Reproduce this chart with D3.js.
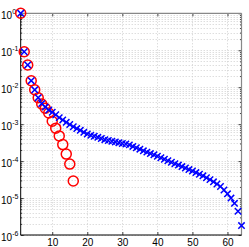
<!DOCTYPE html>
<html>
<head>
<meta charset="utf-8">
<script src="https://cdn.jsdelivr.net/npm/d3@7"></script>
<style>
  body { margin: 0; background: #fff; }
  svg { display: block; font-family: "Liberation Sans", Arial, sans-serif; }
</style>
</head>
<body>
<main></main>
<script>
// values (log scale y)
const blueVals = [
  1, 9.1e-2, 4.0e-2, 1.5e-2, 8.5e-3, 5.2e-3, 3.6e-3, 2.9e-3, 2.4e-3, 2.1e-3,
  1.8e-3, 1.5e-3, 1.3e-3, 1.12e-3, 9.8e-4, 8.5e-4, 7.6e-4, 6.8e-4, 6.0e-4, 5.4e-4,
  5.0e-4, 4.7e-4, 4.4e-4, 4.1e-4, 3.8e-4, 3.6e-4, 3.45e-4, 3.3e-4, 3.15e-4, 3.0e-4,
  2.9e-4, 2.75e-4, 2.5e-4, 2.3e-4, 2.1e-4, 1.9e-4, 1.75e-4, 1.6e-4, 1.48e-4, 1.35e-4,
  1.23e-4, 1.12e-4, 1.02e-4, 9.3e-5, 8.5e-5, 7.8e-5, 7.1e-5, 6.5e-5, 5.9e-5, 5.4e-5,
  4.9e-5, 4.4e-5, 4.0e-5, 3.55e-5, 3.15e-5, 2.75e-5, 2.4e-5, 2.05e-5, 1.65e-5, 1.3e-5,
  1.0e-5, 7.2e-6, 4.4e-6, 1.8e-6
];
const redVals = [
  1, 9.1e-2, 4.0e-2, 1.5e-2, 8.5e-3, 5.2e-3, 3.5e-3, 2.7e-3, 2.0e-3, 1.2e-3,
  7.8e-4, 4.8e-4, 2.8e-4, 1.55e-4, 8.3e-5, 2.9e-5
];
const xTicks = [10, 20, 30, 40, 50, 60];
const yExponents = [0, -1, -2, -3, -4, -5, -6];

const size = { width: 249, height: 247 };
const box = { left: 20.7, right: 241.5, top: 13.3, bottom: 235 };

const svg = d3.select('main').append('svg')
  .attr('width', size.width)
  .attr('height', size.height);

const x = d3.scaleLinear().domain([1, 64]).range([box.left, box.right]);
const y = d3.scaleLog().domain([1e-6, 1]).range([box.bottom, box.top]);

// minor log positions
const minorY = [];
for (let e = -6; e < 0; e++) {
  for (let k = 2; k <= 9; k++) minorY.push(k * Math.pow(10, e));
}
const majorY = yExponents.map(e => Math.pow(10, e));

// grid
const grid = svg.append('g')
  .attr('stroke', '#cfcfcf')
  .attr('stroke-width', 1)
  .attr('stroke-dasharray', '1,2');
grid.selectAll('.gy').data(majorY.concat(minorY)).enter().append('line')
  .attr('x1', box.left).attr('x2', box.right)
  .attr('y1', d => Math.round(y(d)) + 0.5).attr('y2', d => Math.round(y(d)) + 0.5);
grid.selectAll('.gx').data(xTicks).enter().append('line')
  .attr('y1', box.top).attr('y2', box.bottom)
  .attr('x1', d => Math.round(x(d)) + 0.5).attr('x2', d => Math.round(x(d)) + 0.5);

// axes (ticks inside)
const ax = svg.append('g');
ax.append('g')
  .attr('transform', `translate(0,${box.bottom})`)
  .call(d3.axisBottom(x).tickValues(xTicks).tickSize(-3).tickPadding(3.5).tickFormat(d3.format('d')))
  .call(g => g.select('.domain').remove());
ax.append('g')
  .attr('transform', `translate(0,${box.top})`)
  .call(d3.axisTop(x).tickValues(xTicks).tickSize(-3).tickFormat(''))
  .call(g => g.select('.domain').remove());
ax.append('g')
  .attr('transform', `translate(${box.left},0)`)
  .call(d3.axisLeft(y).tickValues(majorY).tickSize(-3).tickFormat(''))
  .call(g => g.select('.domain').remove());
ax.append('g')
  .attr('transform', `translate(${box.right},0)`)
  .call(d3.axisRight(y).tickValues(majorY).tickSize(-3).tickFormat(''))
  .call(g => g.select('.domain').remove());
ax.append('g')
  .attr('transform', `translate(${box.left},0)`)
  .call(d3.axisLeft(y).tickValues(minorY).tickSize(-1.5).tickFormat(''))
  .call(g => g.select('.domain').remove());
ax.append('g')
  .attr('transform', `translate(${box.right},0)`)
  .call(d3.axisRight(y).tickValues(minorY).tickSize(-1.5).tickFormat(''))
  .call(g => g.select('.domain').remove());
ax.selectAll('.tick line').attr('stroke', '#444');
ax.selectAll('.tick text').attr('font-size', 10).attr('fill', '#000')
  .attr('font-family', '"Liberation Sans", Arial, sans-serif');

// box
svg.append('line').attr('x1', box.left).attr('x2', box.right).attr('y1', box.top).attr('y2', box.top)
  .attr('stroke', '#888').attr('stroke-width', 1.2);
svg.append('line').attr('x1', box.right).attr('x2', box.right).attr('y1', box.top).attr('y2', box.bottom)
  .attr('stroke', '#888').attr('stroke-width', 1.2);
svg.append('line').attr('x1', box.left).attr('x2', box.left).attr('y1', box.top).attr('y2', box.bottom)
  .attr('stroke', '#000').attr('stroke-width', 1);
svg.append('line').attr('x1', box.left).attr('x2', box.right).attr('y1', box.bottom).attr('y2', box.bottom)
  .attr('stroke', '#000').attr('stroke-width', 1);

// y tick labels 10^n
const yl = svg.append('g').attr('font-size', 10).attr('fill', '#000');
yExponents.forEach(e => {
  const t = yl.append('text')
    .attr('x', 1)
    .attr('y', y(Math.pow(10, e)) + 5.5);
  t.append('tspan').text('10');
  t.append('tspan').attr('font-size', 7).attr('dy', -5).text(String(e));
});

// red circles
svg.append('g').selectAll('circle').data(redVals).enter().append('circle')
  .attr('cx', (d, i) => x(i + 1))
  .attr('cy', d => y(d))
  .attr('r', 5)
  .attr('fill', 'none')
  .attr('stroke', '#ff0000')
  .attr('stroke-width', 1.5);

// blue crosses
const s = 3.2;
svg.append('g').selectAll('path').data(blueVals).enter().append('path')
  .attr('d', (d, i) => {
    const cx = x(i + 1), cy = y(d);
    return `M${cx - s},${cy - s}L${cx + s},${cy + s}M${cx - s},${cy + s}L${cx + s},${cy - s}`;
  })
  .attr('stroke', '#0000ff')
  .attr('stroke-width', 1.5)
  .attr('fill', 'none');
</script>
</body>
</html>
